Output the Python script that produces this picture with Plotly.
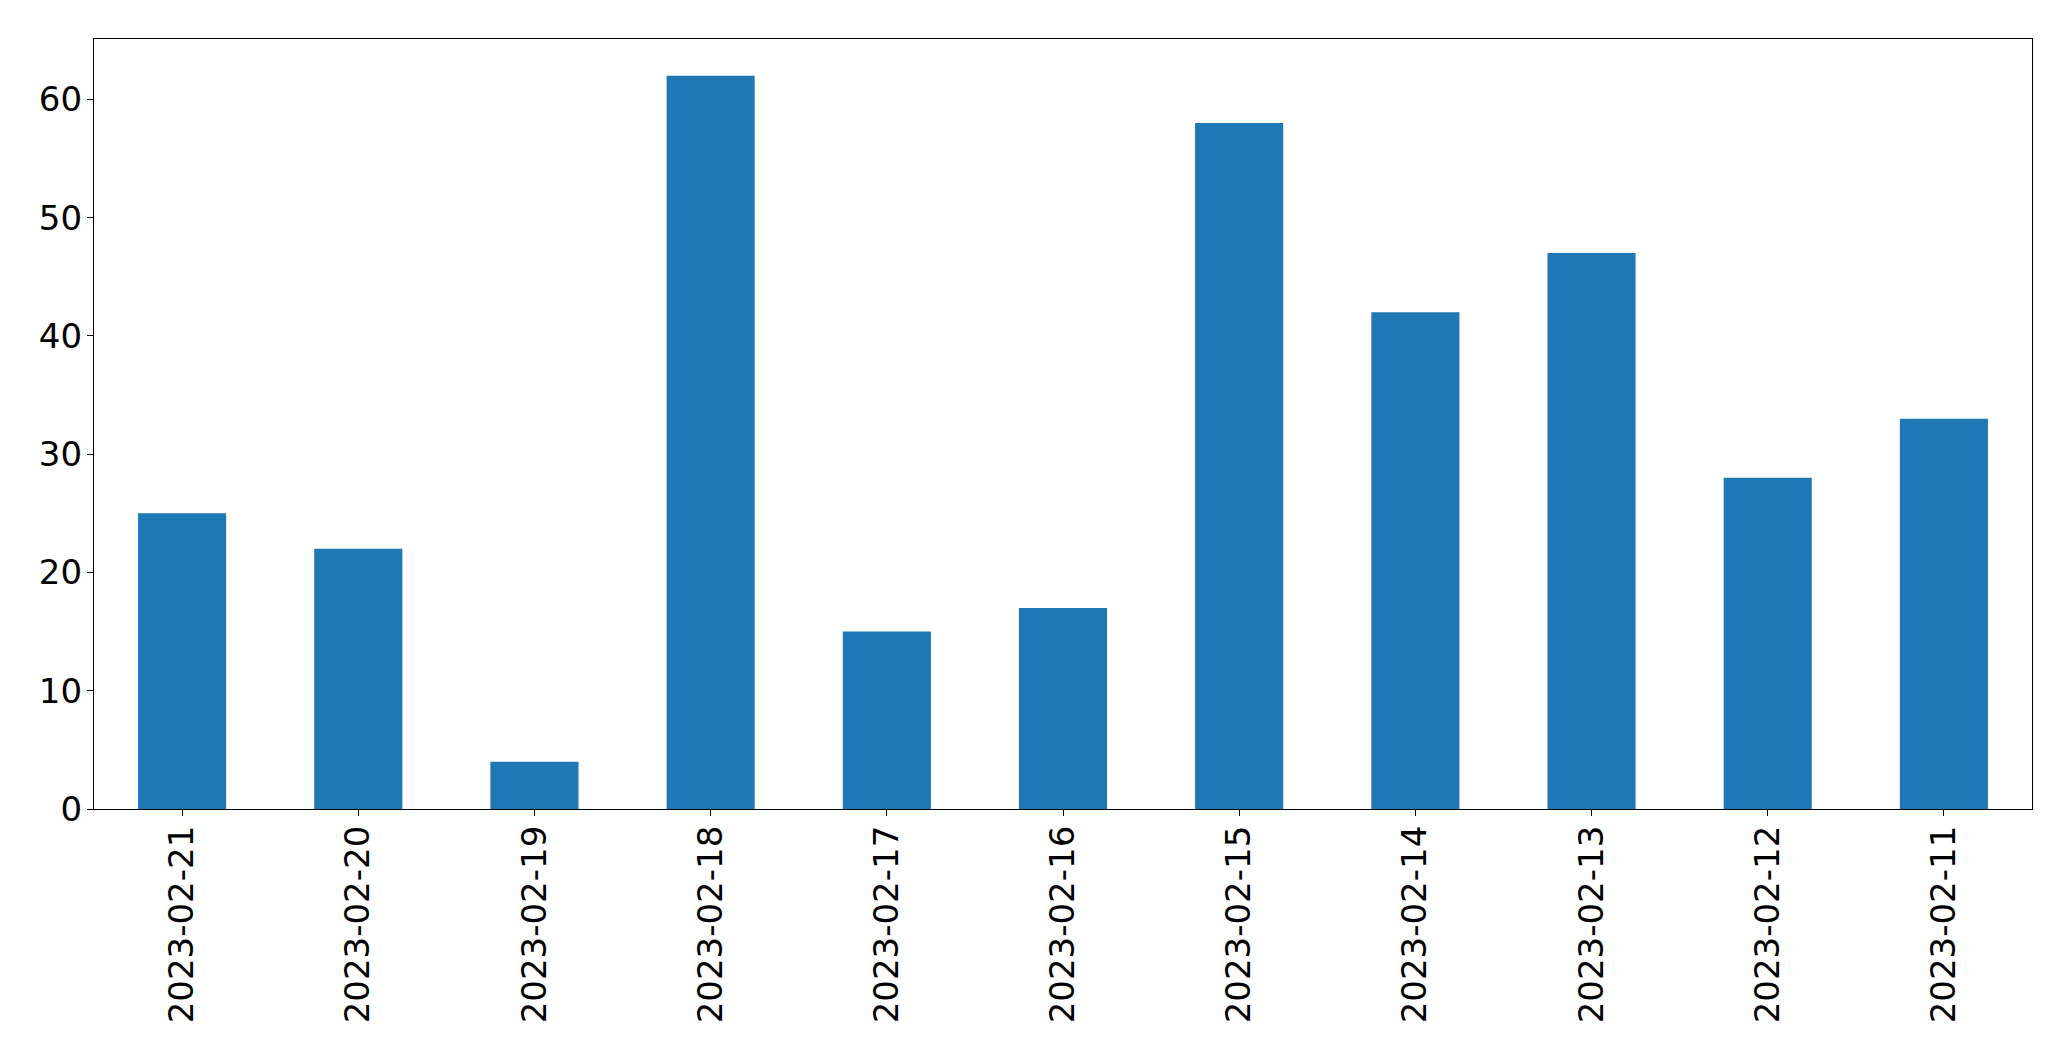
import plotly.graph_objects as go

dates = ["2023-02-21", "2023-02-20", "2023-02-19", "2023-02-18", "2023-02-17",
         "2023-02-16", "2023-02-15", "2023-02-14", "2023-02-13", "2023-02-12", "2023-02-11"]
counts = [25, 22, 4, 62, 15, 17, 58, 42, 47, 28, 33]
y_ticks = [0, 10, 20, 30, 40, 50, 60]

fig = go.Figure(go.Bar(x=dates, y=counts, width=0.5, marker=dict(color="#1f77b4", line=dict(width=0))))

axis_common = dict(showline=True, linecolor="black", linewidth=1.3, mirror=True,
                   ticks="outside", ticklen=6, tickwidth=1.3, tickcolor="black",
                   showgrid=False, zeroline=False,
                   tickfont=dict(family="DejaVu Sans", size=34, color="black"))

fig.update_xaxes(type="category", range=[-0.5, len(dates) - 0.5], tickangle=-90,
                 ticklabelstandoff=-4, **axis_common)
fig.update_yaxes(range=[0, max(counts) * 1.05], tickvals=y_ticks, ticklabelstandoff=-2, **axis_common)

fig.update_layout(width=2071, height=1061, plot_bgcolor="white", paper_bgcolor="white",
                  margin=dict(l=94, r=39, t=39, b=252), showlegend=False, bargap=0.5,
                  font=dict(family="DejaVu Sans", color="black"))

fig.write_html("out.html", config={"displayModeBar": False},
               post_script="document.body.style.margin='0';document.body.style.overflow='hidden';")
